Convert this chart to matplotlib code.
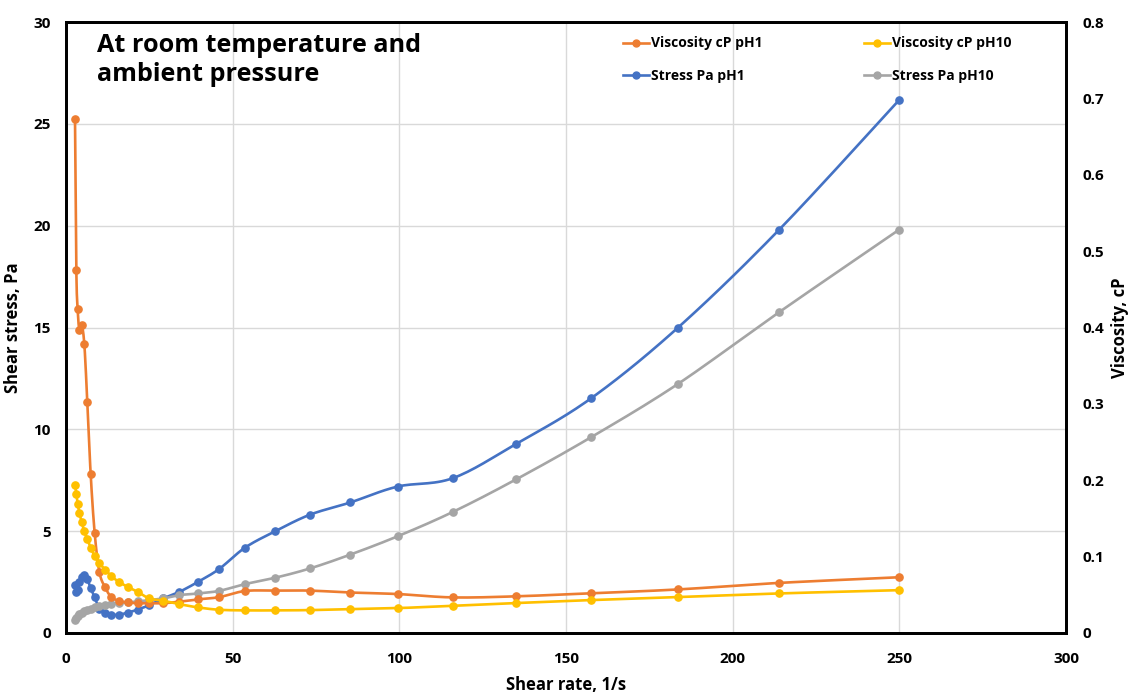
import numpy as np
import matplotlib
matplotlib.use("Agg")
import matplotlib.pyplot as plt
from matplotlib.lines import Line2D

# ---- data ----
shear_rate = [2.7, 3.1, 3.5, 4.0, 4.7, 5.5, 6.4, 7.4, 8.6, 10.0, 11.7, 13.6, 15.9,
              18.5, 21.5, 25.0, 29.2, 34.0, 39.6, 46.0, 53.7, 62.7, 73.2, 85.3,
              99.5, 116.0, 135.0, 157.5, 183.5, 214.0, 250.0]
visc_ph1 = [0.673, 0.475, 0.424, 0.397, 0.403, 0.378, 0.302, 0.208, 0.131, 0.080,
            0.060, 0.047, 0.042, 0.040, 0.039, 0.039, 0.039, 0.041, 0.044, 0.047,
            0.055, 0.0555, 0.0555, 0.053, 0.051, 0.0466, 0.048, 0.052, 0.057,
            0.0656, 0.073]
visc_ph10 = [0.1944, 0.1814, 0.1693, 0.1575, 0.1453, 0.1331, 0.1227, 0.1118, 0.1009,
             0.0917, 0.0831, 0.0744, 0.0669, 0.0604, 0.0539, 0.0453, 0.0422, 0.0378,
             0.0335, 0.0304, 0.0296, 0.0296, 0.0300, 0.0313, 0.0326, 0.0356, 0.0392,
             0.0431, 0.0470, 0.0518, 0.0561]
stress_ph1 = [2.35, 2.0, 2.1, 2.5, 2.75, 2.85, 2.65, 2.2, 1.75, 1.2, 0.98, 0.9, 0.9,
              1.0, 1.15, 1.37, 1.70, 2.02, 2.51, 3.15, 4.19, 4.99, 5.81, 6.41, 7.19,
              7.60, 9.28, 11.52, 14.98, 19.81, 26.18]
stress_ph10 = [0.65, 0.75, 0.85, 0.93, 1.0, 1.08, 1.15, 1.2, 1.27, 1.33, 1.38, 1.43,
               1.47, 1.5, 1.55, 1.62, 1.70, 1.86, 1.94, 2.07, 2.40, 2.71, 3.17, 3.85,
               4.75, 5.94, 7.54, 9.61, 12.22, 15.76, 19.81]

x_ticks = [0, 50, 100, 150, 200, 250, 300]
left_ticks = [0, 5, 10, 15, 20, 25, 30]
right_ticks = [0, 0.1, 0.2, 0.3, 0.4, 0.5, 0.6, 0.7, 0.8]

C_OR, C_YE, C_BL, C_GR = "#ED7D31", "#FFC000", "#4472C4", "#A5A5A5"
FONT = "Open Sans"
plt.rcParams["font.family"] = [FONT, "DejaVu Sans"]

fig = plt.figure(figsize=(11.31, 6.94), dpi=100)
ax = fig.add_axes([66 / 1131, 61 / 694, 1000 / 1131, 611 / 694])
ax2 = ax.twinx()

XMAX, YMAX_L, YMAX_R = 300, 30, 0.8
W_PX, H_PX = 1000.0, 611.0


def smooth(x, y, ymax, n=16):
    """Excel-like smoothed line (Catmull-Rom / Bezier) built in screen space."""
    u = np.asarray(x, float) / XMAX * W_PX
    v = np.asarray(y, float) / ymax * H_PX
    P = np.column_stack([u, v])
    P = np.vstack([P[0], P, P[-1]])
    out = []
    t = np.linspace(0, 1, n, endpoint=False)[:, None]
    for i in range(1, len(P) - 2):
        p0, p1, p2, p3 = P[i - 1], P[i], P[i + 1], P[i + 2]
        c1 = p1 + (p2 - p0) / 6.0
        c2 = p2 - (p3 - p1) / 6.0
        seg = ((1 - t) ** 3) * p1 + 3 * ((1 - t) ** 2) * t * c1 + 3 * (1 - t) * t ** 2 * c2 + t ** 3 * p2
        out.append(seg)
    out.append(P[-2][None, :])
    out = np.vstack(out)
    return out[:, 0] / W_PX * XMAX, out[:, 1] / H_PX * ymax


LW, MS = 1.9, 5.2
for xs, ys, c in [(shear_rate, stress_ph1, C_BL), (shear_rate, stress_ph10, C_GR)]:
    sx, sy = smooth(xs, ys, YMAX_L)
    ax.plot(sx, sy, color=c, lw=LW, solid_capstyle="round")
    ax.plot(xs, ys, "o", color=c, ms=MS, mec=c)
for xs, ys, c in [(shear_rate, visc_ph1, C_OR), (shear_rate, visc_ph10, C_YE)]:
    sx, sy = smooth(xs, ys, YMAX_R)
    ax2.plot(sx, sy, color=c, lw=LW, solid_capstyle="round")
    ax2.plot(xs, ys, "o", color=c, ms=MS, mec=c)

ax.set_xlim(0, XMAX)
ax.set_ylim(0, YMAX_L)
ax2.set_ylim(0, YMAX_R)
ax.set_xticks(x_ticks)
ax.set_yticks(left_ticks)
ax2.set_yticks(right_ticks)
ax.set_yticklabels([str(t) for t in left_ticks])
ax2.set_yticklabels(["0"] + [f"{t:.1f}" for t in right_ticks[1:]])
ax.set_xticklabels([str(t) for t in x_ticks])

ax.grid(True, color="#D9D9D9", lw=1.0)
ax.set_axisbelow(True)
for a in (ax, ax2):
    for s in a.spines.values():
        s.set_linewidth(2.0)
        s.set_color("black")
    a.tick_params(length=0, labelsize=11)
    for lab in a.get_yticklabels() + a.get_xticklabels():
        lab.set_fontweight("bold")
ax.tick_params(axis="x", pad=14)
ax.tick_params(axis="y", pad=11)
ax2.tick_params(axis="y", pad=12)

ax.set_xlabel("Shear rate, 1/s", fontsize=12, fontweight="bold", labelpad=7)
ax.set_ylabel("Shear stress, Pa", fontsize=12, fontweight="bold", labelpad=8)
ax2.set_ylabel("Viscosity, cP", fontsize=12, fontweight="bold", labelpad=5)

fig.text(97 / 1131, 1 - 60 / 694, "At room temperature and\nambient pressure",
         fontsize=18.2, fontweight="bold", va="center", ha="left", linespacing=1.2)

handles = [
    Line2D([], [], color=C_OR, lw=LW, marker="o", ms=5),
    Line2D([], [], color=C_BL, lw=LW, marker="o", ms=5),
    Line2D([], [], color=C_YE, lw=LW, marker="o", ms=5),
    Line2D([], [], color=C_GR, lw=LW, marker="o", ms=5),
]
labels = ["Viscosity cP pH1", "Stress Pa pH1", "Viscosity cP pH10", "Stress Pa pH10"]
leg = fig.legend(handles, labels, ncol=2, loc="upper left",
                 bbox_to_anchor=(610 / 1131, 1 - 24 / 694), frameon=False,
                 prop={"family": FONT, "weight": "bold", "size": 10},
                 handlelength=1.9, handletextpad=0.15, columnspacing=7.3,
                 labelspacing=1.3)

fig.savefig("out.png", dpi=100)
